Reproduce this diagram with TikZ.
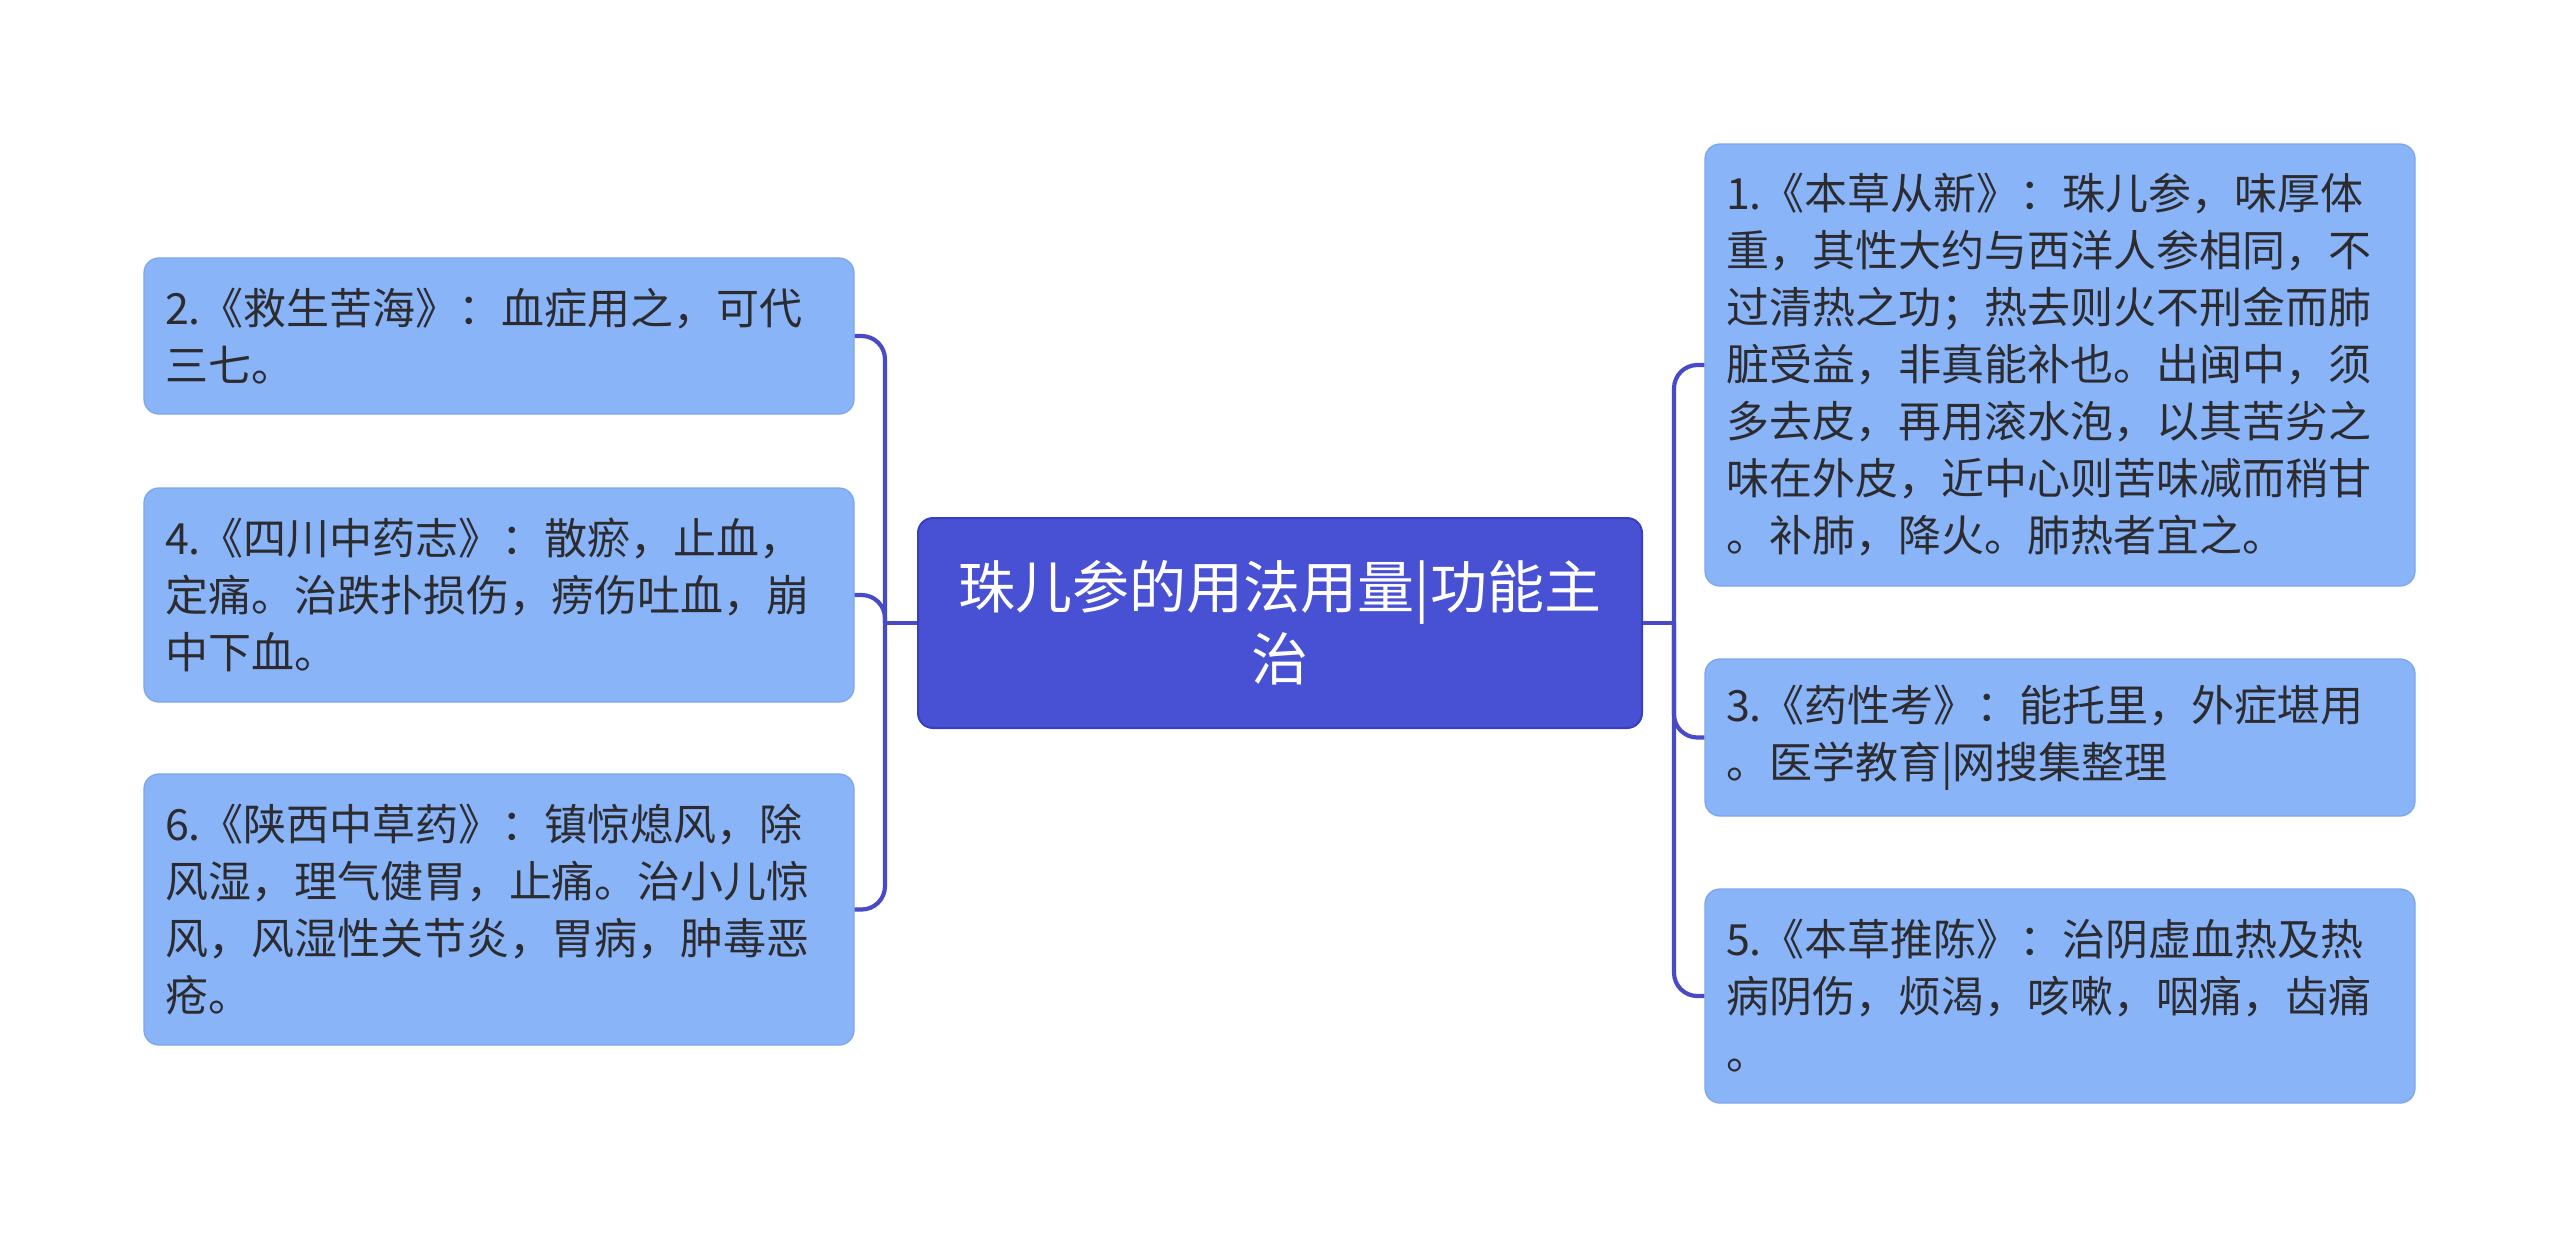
\documentclass[tikz,border=0pt]{standalone}
\usepackage{fontspec}
\setmainfont{Noto Sans CJK SC}
\definecolor{leaf}{RGB}{138,180,248}
\definecolor{leafline}{RGB}{125,166,238}
\definecolor{rootfill}{RGB}{72,80,212}
\definecolor{rootline}{RGB}{58,62,186}
\definecolor{conncol}{RGB}{72,74,198}
\definecolor{ink}{RGB}{44,44,48}
\begin{document}
\begin{tikzpicture}[x=0.3pt,y=-0.3pt,
  leafbox/.style={fill=leaf, draw=leafline, line width=0.4pt, rounded corners=4.5pt,
    text width=200.4pt, inner xsep=6.3pt, inner ysep=0pt, align=left, text=ink,
    font=\fontsize{12.9pt}{17.1pt}\selectfont},
  rootbox/.style={fill=rootfill, draw=rootline, line width=0.6pt, rounded corners=4.5pt,
    minimum width=217.2pt, minimum height=63pt, inner sep=0pt, align=center, text=white,
    font=\fontsize{17.1pt}{21.6pt}\selectfont},
  conn/.style={draw=conncol, line width=1.25pt, rounded corners=7pt}]
\useasboundingbox[fill=white] (0,0) rectangle (2560,1247);

\node[rootbox] (root) at (1280,623) {珠儿参的用法用量|功能主\\治};

\node[leafbox, minimum height=46.8pt] (n2) at (499,336) {2.《救生苦海》：血症用之，可代\\三七。};
\node[leafbox, minimum height=64.2pt] (n4) at (499,595) {4.《四川中药志》：散瘀，止血，\\定痛。治跌扑损伤，痨伤吐血，崩\\中下血。};
\node[leafbox, minimum height=81.3pt] (n6) at (499,909.5) {6.《陕西中草药》：镇惊熄风，除\\风湿，理气健胃，止痛。治小儿惊\\风，风湿性关节炎，胃病，肿毒恶\\疮。};

\node[leafbox, minimum height=132.6pt] (n1) at (2060,365) {1.《本草从新》：珠儿参，味厚体\\重，其性大约与西洋人参相同，不\\过清热之功；热去则火不刑金而肺\\脏受益，非真能补也。出闽中，须\\多去皮，再用滚水泡，以其苦劣之\\味在外皮，近中心则苦味减而稍甘\\。补肺，降火。肺热者宜之。};
\node[leafbox, minimum height=47.1pt] (n3) at (2060,737.5) {3.《药性考》：能托里，外症堪用\\。医学教育|网搜集整理};
\node[leafbox, minimum height=64.2pt] (n5) at (2060,996) {5.《本草推陈》：治阴虚血热及热\\病阴伤，烦渴，咳嗽，咽痛，齿痛\\。};

\coordinate (jL) at (885,623);
\coordinate (jR) at (1674,623);

\draw[conn] (root.west) -- (jL);
\draw[conn] (root.east) -- (jR);
\draw[conn] (jL) |- (n2.east);
\draw[conn] (jL) |- (n4.east);
\draw[conn] (jL) |- (n6.east);
\draw[conn] (jR) |- (n1.west);
\draw[conn] (jR) |- (n3.west);
\draw[conn] (jR) |- (n5.west);
\end{tikzpicture}
\end{document}
